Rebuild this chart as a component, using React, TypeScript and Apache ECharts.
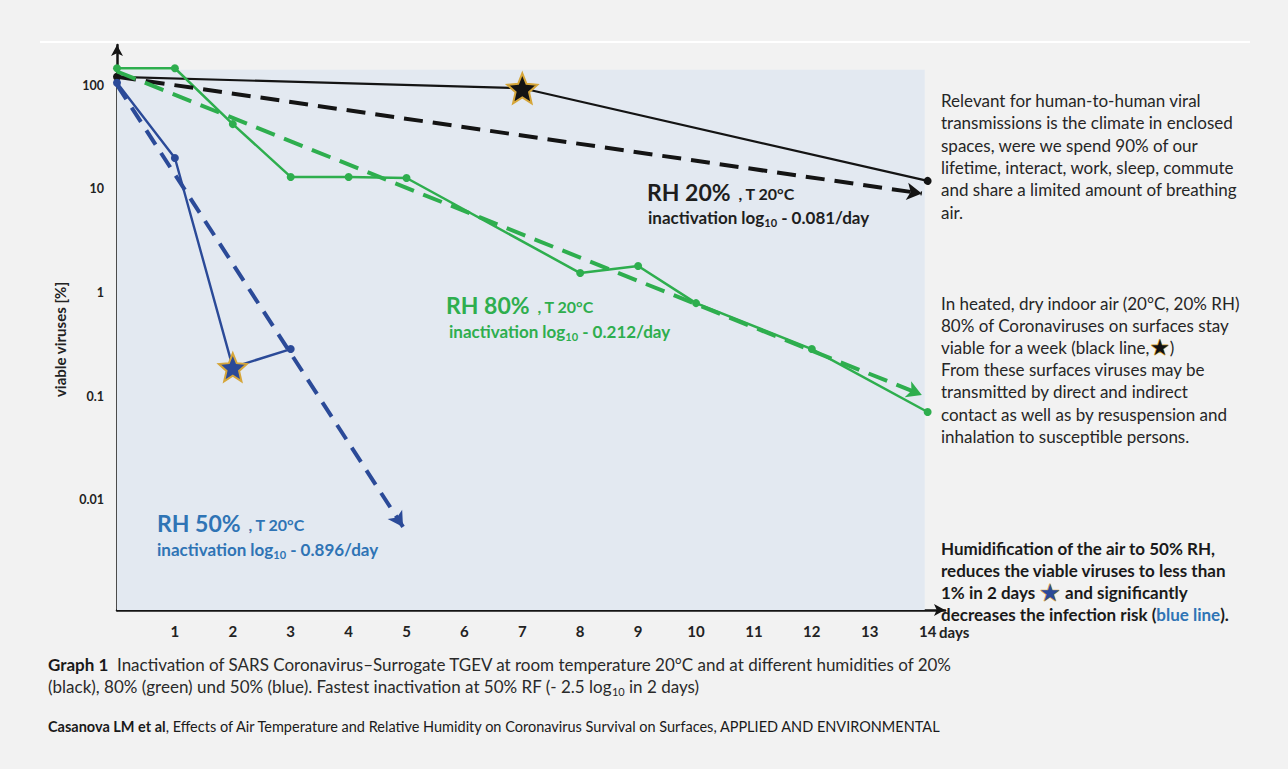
import { useEffect, useRef } from 'react';
import * as echarts from 'echarts';

// ---- data ----
const days20 = [0, 7, 14];
const rh20 = [120, 93, 11.9];
const days80 = [0, 1, 2, 3, 4, 5, 8, 9, 10, 12, 14];
const rh80 = [145, 145, 42, 13, 13, 12.7, 1.54, 1.8, 0.79, 0.285, 0.0705];
const days50 = [0, 1, 2, 3];
const rh50 = [105, 19.8, 0.19, 0.285];

// fitted inactivation lines (start / end)
const fitDays20 = [0, 13.9];
const fitVals20 = [120, 9];
const fitDays80 = [0, 13.9];
const fitVals80 = [135, 0.103];
const fitDays50 = [0, 4.94];
const fitVals50 = [100, 0.0055];

const xTickLabels = ['1', '2', '3', '4', '5', '6', '7', '8', '9', '10', '11', '12', '13', '14'];
const yTickValues = [100, 10, 1, 0.1, 0.01];
const yTickLabels = ['100', '10', '1', '0.1', '0.01'];

const star20Index = 1;
const star50Index = 2;

// axis extents
const X_MIN = 0;
const X_MAX = 14.3;
const Y_MIN = 0.00087;
const Y_MAX = 243;
const SHADE_X_END = 13.95;
const SHADE_Y_TOP = 140;

const BLACK = '#141414';
const GREEN = '#2eae4e';
const BLUE = '#2b4a98';
const LBLUE = '#2f74b5';
const GOLD = '#d6a63a';
const FONT = 'Lato, "Noto Sans", sans-serif';

function starPath(inner: number) {
  let d = '';
  for (let i = 0; i < 10; i++) {
    const a = -Math.PI / 2 + (i * Math.PI) / 5;
    const r = i % 2 ? inner : 1;
    d += (i ? 'L' : 'M') + (r * Math.cos(a)).toFixed(4) + ' ' + (r * Math.sin(a)).toFixed(4) + ' ';
  }
  return 'path://' + d + 'Z';
}
const STAR = starPath(0.45);

function makeLine(xs: number[], ys: number[], color: string, width: number, dot: number, starIdx: number, starFill: string, starSize: number) {
  return {
    type: 'line',
    data: xs.map((x, i) => {
      const item: any = { value: [x, ys[i]] };
      if (i === starIdx) {
        item.symbol = STAR;
        item.symbolSize = starSize;
        item.itemStyle = { color: starFill, borderColor: GOLD, borderWidth: 2 };
      }
      return item;
    }),
    symbol: 'circle',
    symbolSize: dot,
    lineStyle: { color, width },
    itemStyle: { color },
    z: 3,
  };
}

function fitLine(xs: number[], ys: number[], color: string, dash: number[]) {
  return {
    symbol: ['none', 'arrow'],
    symbolSize: [13, 15],
    label: { show: false },
    silent: true,
    lineStyle: { color, width: 4, type: dash },
    data: [[{ coord: [xs[0], ys[0]] }, { coord: [xs[1], ys[1]] }]],
  };
}

export default function App() {
  const ref = useRef<HTMLDivElement>(null);
  useEffect(() => {
    if (!ref.current) return;
    const chart = echarts.init(ref.current, undefined, { renderer: 'svg' });

    const black = makeLine(days20, rh20, BLACK, 2.2, 8, star20Index, BLACK, 30) as any;
    black.markArea = {
      silent: true,
      itemStyle: { color: '#e3e9f1' },
      data: [[{ coord: [X_MIN, Y_MIN] }, { coord: [SHADE_X_END, SHADE_Y_TOP] }]],
    };
    black.markLine = fitLine(fitDays20, fitVals20, BLACK, [19, 10]);
    const green = makeLine(days80, rh80, GREEN, 2.5, 8, -1, GREEN, 0) as any;
    green.markLine = fitLine(fitDays80, fitVals80, GREEN, [20, 10]);
    const blue = makeLine(days50, rh50, BLUE, 2.4, 8, star50Index, BLUE, 28) as any;
    blue.markLine = fitLine(fitDays50, fitVals50, BLUE, [17, 10]);

    const sub = (color: string) => ({
      a: { fontSize: 23, fontWeight: 'bold', fontFamily: FONT, fill: color, lineHeight: 28, verticalAlign: 'bottom' },
      b: { fontSize: 16, fontWeight: 'bold', fontFamily: FONT, fill: color, lineHeight: 28, verticalAlign: 'bottom', padding: [0, 0, 2, 0] },
      c: { fontSize: 17, fontWeight: 'bold', fontFamily: FONT, fill: color, lineHeight: 22, verticalAlign: 'bottom', padding: [0, 0, 2, 0] },
      s: { fontSize: 11, fontWeight: 'bold', fontFamily: FONT, fill: color, lineHeight: 22, verticalAlign: 'bottom' },
    });
    const ann = (x: number, y: number, text: string, color: string) => ({
      type: 'text',
      x,
      y,
      z: 50,
      style: { text, rich: sub(color), verticalAlign: 'middle' },
    });

    const body = `17px ${FONT}`;
    const bodyBold = `bold 17px ${FONT}`;

    const option: any = {
      animation: false,
      backgroundColor: '#f2f2f2',
      grid: { left: 117, right: 343, top: 45, bottom: 159 },
      xAxis: {
        type: 'value',
        min: X_MIN,
        max: X_MAX,
        interval: 1,
        axisLine: { show: true, lineStyle: { color: BLACK, width: 2.5 }, symbol: ['none', 'arrow'], symbolSize: [9, 11] },
        axisTick: { show: false },
        splitLine: { show: false },
        axisLabel: {
          margin: 13,
          fontFamily: FONT,
          fontWeight: 'bold',
          fontSize: 15,
          color: '#222',
          formatter: (v: number) => {
            const i = Math.round(v);
            return Math.abs(v - i) < 1e-6 && i >= 1 && i <= xTickLabels.length ? xTickLabels[i - 1] : '';
          },
        },
      },
      yAxis: {
        type: 'log',
        logBase: 10,
        min: Y_MIN,
        max: Y_MAX,
        name: 'viable viruses [%]',
        nameLocation: 'middle',
        nameGap: 50,
        nameRotate: 90,
        nameTextStyle: { fontFamily: FONT, fontWeight: 'bold', fontSize: 15, color: '#222', padding: [0, 24, 0, 0] },
        axisLine: { show: true, lineStyle: { color: BLACK, width: 2.5 }, symbol: ['none', 'arrow'], symbolSize: [9, 11] },
        axisTick: { show: false },
        splitLine: { show: false },
        minorTick: { show: false },
        axisLabel: {
          margin: 13,
          fontFamily: FONT,
          fontWeight: 'bold',
          fontSize: 12.5,
          color: '#222',
          formatter: (v: number) => {
            for (let i = 0; i < yTickValues.length; i++) {
              if (Math.abs(Math.log10(v) - Math.log10(yTickValues[i])) < 1e-4) return yTickLabels[i];
            }
            return '';
          },
        },
      },
      series: [black, green, blue],
      graphic: [
        { type: 'rect', shape: { x: 40, y: 41, width: 1210, height: 2 }, style: { fill: '#ffffff' }, z: -1 },
        { type: 'text', x: 939, y: 632, z: 50, style: { text: 'days', font: `bold 15px ${FONT}`, fill: '#222', verticalAlign: 'middle' } },
        // series annotations
        ann(647, 189, '{a|RH 20%}{b|  , T 20°C}', '#1e1e1e'),
        ann(648, 217, '{c|inactivation log}{s|10}{c| - 0.081/day}', '#1e1e1e'),
        ann(446, 302, '{a|RH 80%}{b|  , T 20°C}', GREEN),
        ann(449, 331, '{c|inactivation log}{s|10}{c| - 0.212/day}', GREEN),
        ann(157, 520, '{a|RH 50%}{b|  , T 20°C}', LBLUE),
        ann(157, 549, '{c|inactivation log}{s|10}{c| - 0.896/day}', LBLUE),
        // right-hand notes
        {
          type: 'text',
          x: 941,
          y: 89,
          z: 50,
          style: {
            text: 'Relevant for human-to-human viral\ntransmissions is the climate in enclosed\nspaces, were we spend 90% of our\nlifetime, interact, work, sleep, commute\nand share a limited amount of breathing\nair.',
            font: body,
            fill: '#262626',
            lineHeight: 22.4,
            verticalAlign: 'top',
          },
        },
        {
          type: 'text',
          x: 941,
          y: 292,
          z: 50,
          style: {
            text: 'In heated, dry indoor air (20°C, 20% RH)\n80% of Coronaviruses on surfaces stay\nviable for a week (black line,{st|★})\nFrom these surfaces viruses may be\ntransmitted by direct and indirect\ncontact as well as by resuspension and\ninhalation to susceptible persons.',
            font: body,
            fill: '#262626',
            lineHeight: 22.2,
            verticalAlign: 'top',
            rich: {
              st: { fontSize: 22, fill: '#111', stroke: GOLD, lineWidth: 1.2, lineHeight: 22.2, fontFamily: '"DejaVu Sans"' },
            },
          },
        },
        {
          type: 'text',
          x: 941,
          y: 537,
          z: 50,
          style: {
            text: 'Humidification of the air to 50% RH,\nreduces the viable viruses to less than\n1% in 2 days {bs|★} and significantly\ndecreases the infection risk ({bl|blue line}).',
            font: bodyBold,
            fill: '#1a1a1a',
            lineHeight: 22.2,
            verticalAlign: 'top',
            rich: {
              bs: { fontSize: 24, fill: BLUE, stroke: GOLD, lineWidth: 1.2, lineHeight: 22.2, fontFamily: '"DejaVu Sans"' },
              bl: { fontSize: 17, fontWeight: 'bold', fontFamily: FONT, fill: LBLUE, lineHeight: 22.2 },
            },
          },
        },
        // caption
        {
          type: 'text',
          x: 48,
          y: 653,
          z: 50,
          style: {
            text: '{g|Graph 1}  Inactivation of SARS Coronavirus–Surrogate TGEV at room temperature 20°C and at different humidities of 20%\n(black), 80% (green) und 50% (blue). Fastest inactivation at 50% RF (- 2.5 log{s|10} in 2 days)',
            font: `17px ${FONT}`,
            fill: '#2a2a2a',
            lineHeight: 22,
            verticalAlign: 'top',
            rich: {
              g: { fontSize: 17, fontWeight: 'bold', fontFamily: FONT, fill: '#1a1a1a', lineHeight: 22 },
              s: { fontSize: 11, fontFamily: FONT, fill: '#2a2a2a', lineHeight: 22, verticalAlign: 'bottom' },
            },
          },
        },
        {
          type: 'text',
          x: 48,
          y: 726,
          z: 50,
          style: {
            text: '{g|Casanova LM et al}, Effects of Air Temperature and Relative Humidity on Coronavirus Survival on Surfaces, APPLIED AND ENVIRONMENTAL',
            font: `14.5px ${FONT}`,
            fill: '#1a1a1a',
            verticalAlign: 'middle',
            rich: { g: { fontSize: 14.5, fontWeight: 'bold', fontFamily: FONT, fill: '#1a1a1a' } },
          },
        },
      ],
    };
    chart.setOption(option);
    return () => chart.dispose();
  }, []);
  return <div ref={ref} style={{ position: 'fixed', left: 0, top: 0, width: 1288, height: 769 }} />;
}
